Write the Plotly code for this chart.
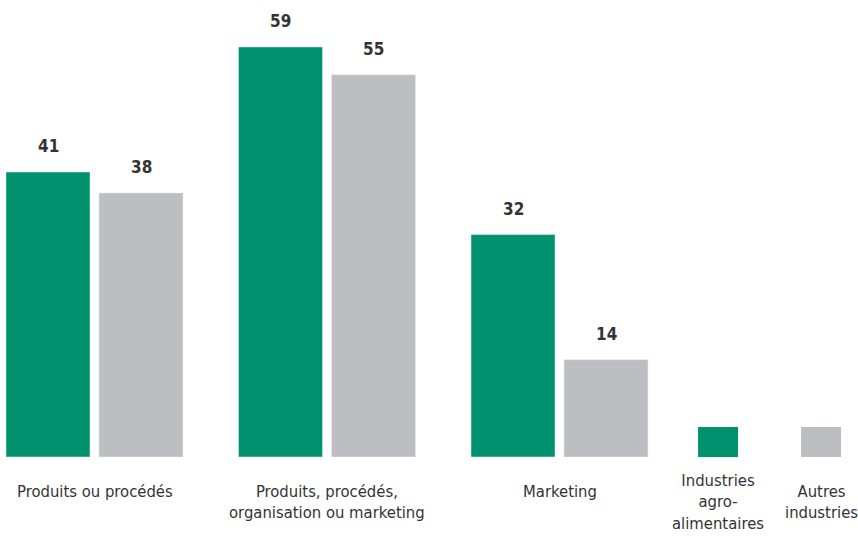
import plotly.graph_objects as go

categories = ["Produits ou procédés", "Produits, procédés,<br>organisation ou marketing", "Marketing"]
series_names = ["Industries<br>agro-<br>alimentaires", "Autres<br>industries"]
agro = [41, 59, 32]
autres = [38, 55, 14]

GREEN = "#00916F"
GRAY = "#BDBEC2"
TXT = "#333333"
FONT = "DejaVu Sans Condensed, Liberation Sans Narrow, sans-serif"

xs = [0, 1, 2]
fig = go.Figure()
fig.add_trace(go.Bar(x=xs, y=agro, marker_color=GREEN, name="agro", showlegend=False))
fig.add_trace(go.Bar(x=xs, y=autres, marker_color=GRAY, name="autres", showlegend=False))

# value labels
off = 0.2
for i, (a, b) in enumerate(zip(agro, autres)):
    for dx, v in ((-off, a), (off, b)):
        fig.add_annotation(x=xs[i] + dx, y=v, text=f"<b>{v}</b>", showarrow=False,
                           yanchor="bottom", yshift=14, font=dict(size=17, color=TXT, family=FONT))

# category labels
for i, c in enumerate(categories):
    fig.add_annotation(x=xs[i], y=0, yref="y", text=c, showarrow=False, yanchor="top",
                       yshift=-23, font=dict(size=16.5, color=TXT, family=FONT))

# custom legend
leg_x = [2.682, 3.125]
leg_col = [GREEN, GRAY]
for lx, col, name, sh in zip(leg_x, leg_col, series_names, [-12, -23]):
    fig.add_shape(type="rect", xref="x", yref="paper", x0=lx - 0.086, x1=lx + 0.086,
                  y0=0.0, y1=30 / 457, fillcolor=col, line_width=0, layer="above")
    fig.add_annotation(x=lx, y=0, text=name, showarrow=False, yanchor="top", yshift=sh,
                       font=dict(size=16.5, color=TXT, family=FONT))

fig.update_layout(
    width=858, height=538,
    margin=dict(l=0, r=0, t=0, b=81),
    paper_bgcolor="white", plot_bgcolor="white",
    barmode="group", bargap=0.2, bargroupgap=0.0968,
    xaxis=dict(range=[-94.5 / 232.5, (858 - 94.5) / 232.5], visible=False),
    yaxis=dict(range=[0, 457 / 6.95], visible=False),
)
fig.write_html("out.html")
